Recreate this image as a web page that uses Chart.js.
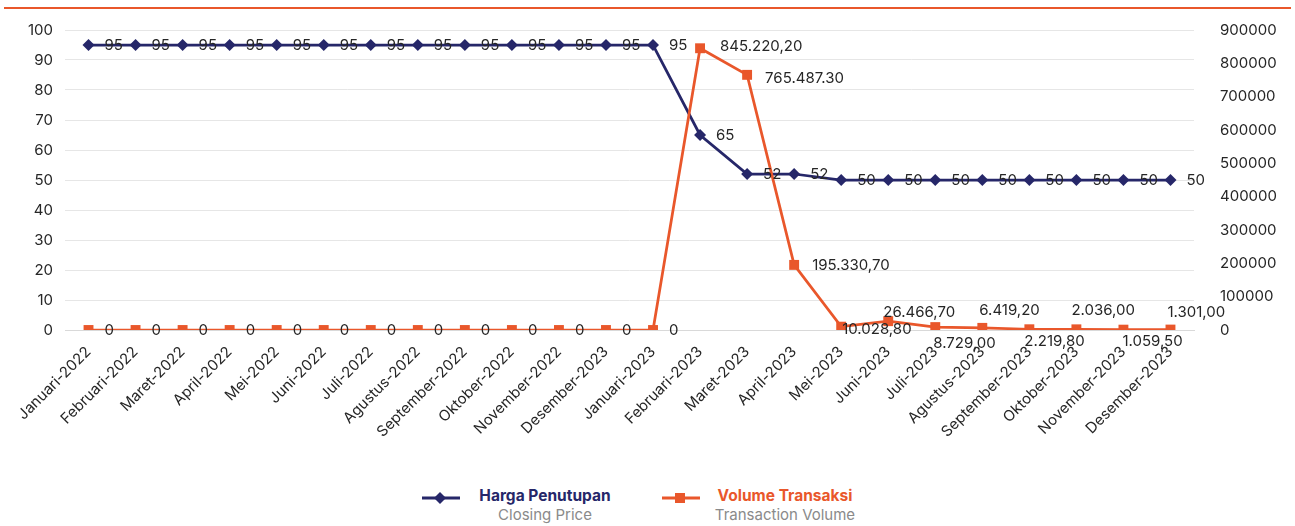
<!DOCTYPE html>
<html>
<head>
<meta charset="utf-8">
<title>Harga Penutupan dan Volume Transaksi</title>
<script src="https://cdn.jsdelivr.net/npm/chart.js@4.4.0/dist/chart.umd.min.js"></script>
<style>
  html, body { margin: 0; padding: 0; background: #fff; }
  body { width: 1295px; height: 526px; position: relative; overflow: hidden; font-family: Inter, "Noto Sans", sans-serif; }
  .topline { position: absolute; left: 4px; top: 7px; width: 1287px; height: 2px; background: #E9572B; }
  #chart { position: absolute; left: 0; top: 0; }
  .lg-mark { position: absolute; top: 490px; }
  .lg-text { position: absolute; top: 486px; width: 220px; text-align: center; line-height: 19px; }
  .lg-title { font-size: 15.5px; font-weight: 700; }
  .lg-sub { font-size: 15px; color: #8a8a8a; }
</style>
</head>
<body>
<div class="topline"></div>
<canvas id="chart" width="1295" height="440"></canvas>

<svg class="lg-mark" style="left:421px" width="40" height="16">
  <line x1="1" y1="8" x2="39" y2="8" stroke="#262769" stroke-width="3"/>
  <polygon points="19,2 25,8 19,14 13,8" fill="#262769"/>
</svg>
<div class="lg-text" style="left:435px">
  <div class="lg-title" style="color:#262769">Harga Penutupan</div>
  <div class="lg-sub">Closing Price</div>
</div>
<svg class="lg-mark" style="left:661px" width="40" height="16">
  <line x1="1" y1="8" x2="39" y2="8" stroke="#E9572B" stroke-width="3"/>
  <rect x="14" y="3" width="10" height="10" fill="#E9572B"/>
</svg>
<div class="lg-text" style="left:675px">
  <div class="lg-title" style="color:#E9572B">Volume Transaksi</div>
  <div class="lg-sub">Transaction Volume</div>
</div>

<script>
// bulan (label sumbu x, persis seperti di gambar)
var months = [
  'Januari-2022', 'Februari-2022', 'Maret-2022', 'April-2022', 'Mei-2022', 'Juni-2022',
  'Juli-2022', 'Agustus-2022', 'September-2022', 'Oktober-2022', 'November-2022', 'Desember-2023',
  'Januari-2023', 'Februari-2023', 'Maret-2023', 'April-2023', 'Mei-2023', 'Juni-2023',
  'Juli-2023', 'Agustus-2023', 'September-2023', 'Oktober-2023', 'November-2023', 'Desember-2023'
];

var closingPrice = [95, 95, 95, 95, 95, 95, 95, 95, 95, 95, 95, 95, 95, 65, 52, 52, 50, 50, 50, 50, 50, 50, 50, 50];

var volume = [0, 0, 0, 0, 0, 0, 0, 0, 0, 0, 0, 0, 0,
  845220.20, 765487.30, 195330.70, 10028.80, 26466.70, 8729.00, 6419.20, 2219.80, 2036.00, 1059.50, 1301.00];

var priceText = ['95', '95', '95', '95', '95', '95', '95', '95', '95', '95', '95', '95', '95',
  '65', '52', '52', '50', '50', '50', '50', '50', '50', '50', '50'];

var volumeText = ['0', '0', '0', '0', '0', '0', '0', '0', '0', '0', '0', '0', '0',
  '845.220,20', '765.487.30', '195.330,70', '10.028,80', '26.466,70', '8.729,00', '6.419,20',
  '2.219,80', '2.036,00', '1.059,50', '1.301,00'];

var leftTicks = { min: 0, max: 100, step: 10 };
var rightTicks = { min: 0, max: 900000, step: 100000 };

// posisi label (dx, dy dari titik)
var priceLabelPos = priceText.map(function () { return [16, 0]; });
var volumeLabelPos = [
  [16, 0], [16, 0], [16, 0], [16, 0], [16, 0], [16, 0], [16, 0], [16, 0], [16, 0], [16, 0], [16, 0], [16, 0], [16, 0],
  [20, -2], [18, 4], [18, 1], [1, 3], [-5, -9], [-2, 16], [-3, -17], [-5, 12], [-5, -19], [-1, 12], [-3, -17]
];

var NAVY = '#262769';
var ORANGE = '#E9572B';
var TEXT = '#262626';

var pointLabels = {
  id: 'pointLabels',
  afterDatasetsDraw: function (chart) {
    var ctx = chart.ctx;
    ctx.save();
    ctx.font = '15px Inter';
    ctx.fillStyle = TEXT;
    ctx.textAlign = 'left';
    ctx.textBaseline = 'middle';
    chart.data.datasets.forEach(function (ds, i) {
      var meta = chart.getDatasetMeta(i);
      meta.data.forEach(function (pt, j) {
        var off = ds.labelPos[j];
        ctx.fillText(ds.labelText[j], pt.x + off[0], pt.y + off[1]);
      });
    });
    ctx.restore();
  }
};

var ctx = document.getElementById('chart').getContext('2d');
var myChart = new Chart(ctx, {
  type: 'line',
  data: {
    labels: months,
    datasets: [{
        label: 'Harga Penutupan',
        data: closingPrice,
        yAxisID: 'y',
        borderColor: NAVY,
        backgroundColor: NAVY,
        borderWidth: 2.75,
        pointStyle: 'rectRot',
        pointRadius: 6,
        pointBorderWidth: 0,
        tension: 0,
        order: 2,
        labelText: priceText,
        labelPos: priceLabelPos
      },
      {
        label: 'Volume Transaksi',
        data: volume,
        yAxisID: 'y1',
        borderColor: ORANGE,
        backgroundColor: ORANGE,
        borderWidth: 2.75,
        pointStyle: 'rect',
        pointRadius: 7,
        pointBorderWidth: 0,
        tension: 0,
        order: 1,
        labelText: volumeText,
        labelPos: volumeLabelPos
      }
    ]
  },
  options: {
    responsive: false,
    animation: false,
    layout: { padding: { top: 30, left: 0, right: 0, bottom: 0 } },
    plugins: {
      legend: { display: false },
      tooltip: { enabled: false }
    },
    scales: {
      x: {
        offset: true,
        grid: { display: false, drawTicks: false },
        border: { display: true, color: '#d9d9d9', width: 1 },
        ticks: {
          autoSkip: false,
          maxRotation: 45,
          minRotation: 45,
          padding: 13,
          color: TEXT,
          font: { family: 'Inter', size: 15 }
        },
        afterFit: function (scale) { scale.height = 110; }
      },
      y: {
        position: 'left',
        min: leftTicks.min,
        max: leftTicks.max,
        grid: { color: '#e6e6e6', lineWidth: 1, drawTicks: false },
        border: { display: false },
        ticks: {
          stepSize: leftTicks.step,
          padding: 12,
          color: TEXT,
          font: { family: 'Inter', size: 15 }
        },
        afterFit: function (scale) { scale.width = 65; }
      },
      y1: {
        position: 'right',
        min: rightTicks.min,
        max: rightTicks.max,
        grid: { display: true, drawOnChartArea: false, drawTicks: true, tickLength: 14, tickColor: 'rgba(0,0,0,0)' },
        border: { display: false },
        ticks: {
          stepSize: rightTicks.step,
          padding: 12,
          color: TEXT,
          font: { family: 'Inter', size: 15 },
          callback: function (v) { return String(v); }
        },
        afterFit: function (scale) { scale.width = 101; }
      }
    }
  },
  plugins: [pointLabels]
});
</script>
</body>
</html>
